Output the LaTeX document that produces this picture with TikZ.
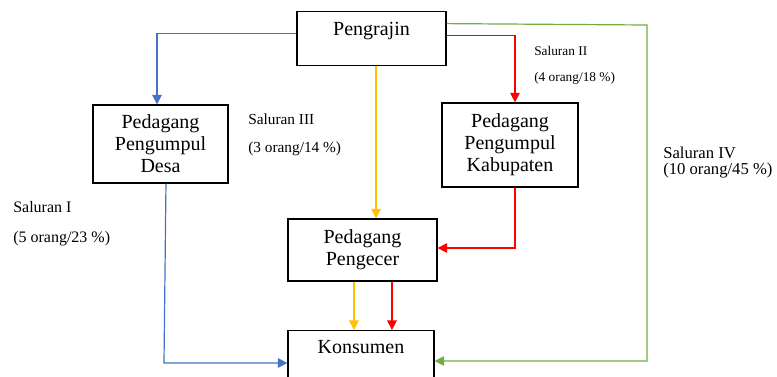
\documentclass[tikz,border=0pt]{standalone}
\usepackage{fontspec}
\setmainfont{Liberation Serif}
\usetikzlibrary{arrows.meta,positioning}
\definecolor{salblue}{HTML}{4472C4}
\definecolor{salorange}{HTML}{FFC000}
\definecolor{salred}{HTML}{FF0000}
\definecolor{salgreen}{HTML}{70AD47}

\begin{document}
\begin{tikzpicture}[x=0.75pt, y=-0.75pt,
    box/.style={draw, line width=0.9pt, align=center, inner sep=0pt,
        font=\fontsize{15}{16.5}\selectfont},
    link/.style={line width=0.9pt, -{Triangle[length=7.2pt,width=7.2pt]}},
    lbl/.style={anchor=base west, inner sep=0pt}]
    \useasboundingbox (0,0) rectangle (777,376);
    \clip (0,0) rectangle (777,376);

    % boxes
    \node[box, anchor=north, minimum width=111.75pt, text height=18pt, text depth=22.5pt] (ppj) at (371.5, 11) {Pengrajin};
    \node[box, minimum width=101.25pt, minimum height=58.5pt] (desa) at (160.5, 144) {Pedagang\\Pengumpul\\Desa};
    \node[box, minimum width=102pt, minimum height=63pt] (kab) at (510, 145) {Pedagang\\Pengumpul\\Kabupaten};
    \node[box, minimum width=111.75pt, minimum height=46.5pt] (pgc) at (362.5, 250) {Pedagang\\Pengecer};
    \node[box, anchor=north, minimum width=109.5pt, text height=17.25pt, text depth=31.5pt] (kons) at (361, 330) {Konsumen};

    \coordinate (gA) at (647, 25);
    \coordinate (gB) at (647, 361);
    \coordinate (bA) at (164, 363);

    % Saluran I
    \draw[link, salblue] ([yshift=3.75pt]ppj.west) -| ([xshift=-2.6pt]desa.north);
    \draw[link, salblue] ([xshift=4.1pt]desa.south) -- (bA) -- (kons.west |- bA);
    % Saluran II
    \draw[link, salred] ([yshift=2.25pt]ppj.east) -| ([xshift=3.75pt]kab.north);
    \draw[link, salred] ([xshift=3.75pt]kab.south) |- ([yshift=1.5pt]pgc.east);
    \draw[link, salred] ([xshift=22.1pt]pgc.south) -- ([xshift=22.1pt]pgc.south |- kons.north);
    % Saluran III
    \draw[link, salorange] ([xshift=3.4pt]ppj.south) -- ([xshift=3.4pt]ppj.south |- pgc.north);
    \draw[link, salorange] ([xshift=-6.4pt]pgc.south) -- ([xshift=-6.4pt]pgc.south |- kons.north);
    % Saluran IV
    \draw[link, salgreen] ([yshift=11.25pt]ppj.east) -- (gA) -- (gB) -- (kons.east |- gB);

    % labels
    \node[lbl, font=\fontsize{12}{14}\selectfont] (sal1) at (13, 212) {Saluran I};
    \node[lbl, font=\fontsize{12}{14}\selectfont] (sal1n) at (13, 242) {(5 orang/23 \%)};
    \node[lbl, font=\fontsize{10}{12}\selectfont] (sal2) at (534, 55) {Saluran II};
    \node[lbl, font=\fontsize{10}{12}\selectfont] (sal2n) at (534, 81) {(4 orang/18 \%)};
    \node[lbl, font=\fontsize{11.5}{13}\selectfont] (sal3) at (248, 124) {Saluran III};
    \node[lbl, font=\fontsize{11.5}{13}\selectfont] (sal3n) at (248, 152) {(3 orang/14 \%)};
    \node[lbl, font=\fontsize{12.5}{14}\selectfont] (sal4) at (663, 158) {Saluran IV};
    \node[lbl, font=\fontsize{12.5}{14}\selectfont] (sal4n) at (663, 174) {(10 orang/45 \%)};
\end{tikzpicture}
\end{document}
